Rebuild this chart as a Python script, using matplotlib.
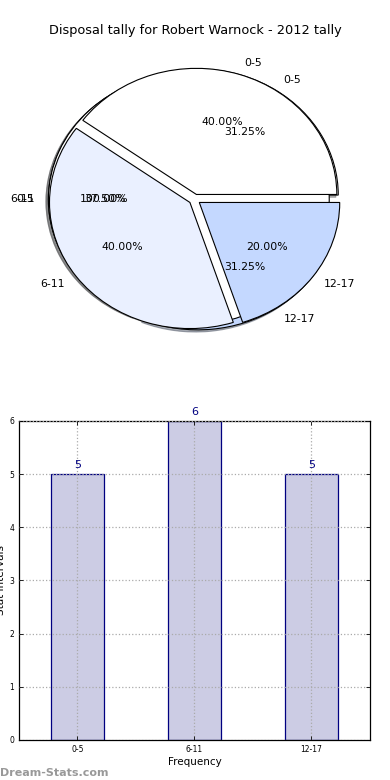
import matplotlib
matplotlib.use("Agg")
import matplotlib.pyplot as plt

categories = ['0-5', '6-11', '12-17']
frequency = [5, 6, 5]
share_values = [40, 40, 20]
full_label = ['0-5']
full_values = [100]
title = 'Disposal tally for Robert Warnock - 2012 tally'

pie_colors = ['#ffffff', '#eaf0ff', '#c4d8ff']
wp = dict(edgecolor='black', linewidth=0.8)
shadow = dict(ox=-0.012, oy=-0.012, shade=0.6)
R = 0.97

fig = plt.figure(figsize=(3.9, 7.8), dpi=100)

# ---- Pie panel ----
axp = fig.add_axes([0.035, 0.536, 0.928, 0.4167])
axp.pie(frequency, labels=categories, autopct='%.2f%%', colors=pie_colors,
        explode=[0.04] * 3, shadow=shadow, wedgeprops=wp, radius=R,
        labeldistance=1.1, pctdistance=0.6,
        textprops=dict(fontsize=7.8))
axp.pie(full_values, labels=full_label, autopct='%.2f%%', colors=['#ffffff'],
        explode=[0.04], shadow=shadow, wedgeprops=wp, radius=R,
        labeldistance=1.1, pctdistance=0.6,
        textprops=dict(fontsize=7.8))
axp.pie(share_values, labels=categories, autopct='%.2f%%', colors=pie_colors,
        explode=[0.04] * 3, shadow=False, wedgeprops=wp, radius=R,
        labeldistance=1.1, pctdistance=0.6,
        textprops=dict(fontsize=7.8))
axp.set_aspect('auto')
axp.set_xlim(-1.25, 1.25)
axp.set_ylim(-1.25, 1.25)
axp.axis('off')
fig.text(0.5, 0.961, title, ha='center', va='center', fontsize=9.3)

# ---- Bar panel ----
axb = fig.add_axes([0.0487, 0.0513, 0.9, 0.409])
x = list(range(len(categories)))
bars = axb.bar(x, frequency, width=0.45, color='#ccccE4', edgecolor='#000080',
               linewidth=0.9, zorder=2)
for xi, v in zip(x, frequency):
    axb.text(xi, v + 0.08, str(v), ha='center', va='bottom', color='#000080',
             fontsize=8)
axb.set_xlim(-0.5, 2.5)
axb.set_ylim(0, 6)
axb.set_xticks(x)
axb.set_xticklabels(categories, fontsize=5.5)
axb.set_yticks(range(0, 7))
axb.tick_params(axis='y', labelsize=5.5)
axb.tick_params(direction='in', top=True, right=True, length=3, width=0.6)
axb.grid(True, linestyle=':', color='#aaaaaa', linewidth=0.9, zorder=0)
axb.set_axisbelow(False)
axb.set_xlabel('Frequency', fontsize=7.5, labelpad=2)
axb.set_ylabel('Stat Intervals', fontsize=7.5, labelpad=2)
for s in axb.spines.values():
    s.set_linewidth(0.9)

fig.text(0.0, 0.003, 'Dream-Stats.com', color='#999999', fontsize=8,
         fontweight='bold', ha='left', va='bottom')

fig.savefig('out.png', dpi=100)
